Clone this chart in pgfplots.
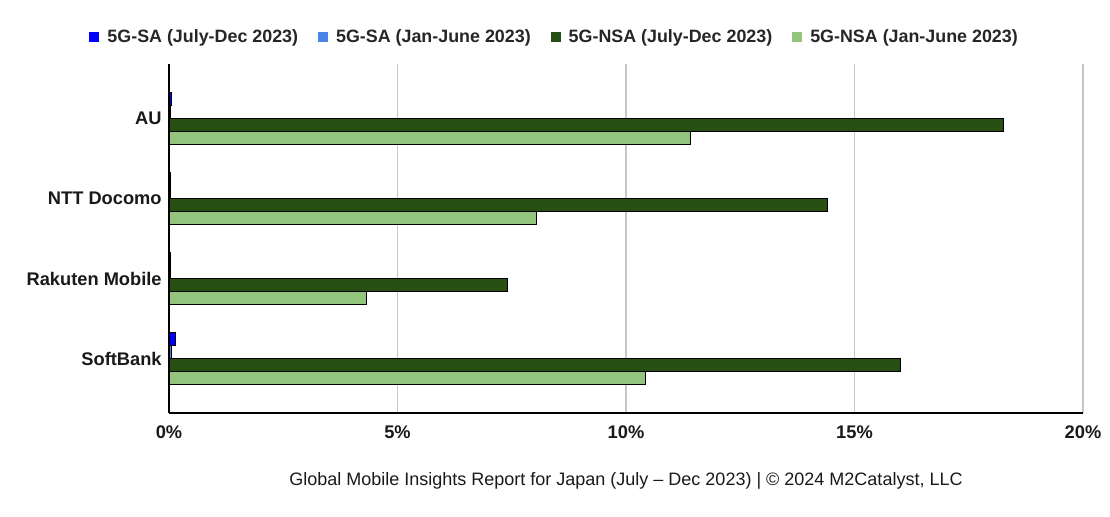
\documentclass[border=0pt]{standalone}
\usepackage{pgfplots}
\pgfplotsset{compat=1.18}
\usepackage{fontspec}
\setmainfont{Liberation Sans}
\definecolor{saJul}{HTML}{0000FF}
\definecolor{saJan}{HTML}{4A86E8}
\definecolor{nsaJul}{HTML}{274E13}
\definecolor{nsaJan}{HTML}{93C47D}
\begin{document}
\begin{tikzpicture}
\path (0pt,0pt) rectangle (832.5pt,387.75pt);
\begin{axis}[
  at={(126.75pt,78pt)}, anchor=south west,
  scale only axis, width=685.5pt, height=261.75pt,
  xbar, bar width=9.4pt,
  xmin=0, xmax=20, ymin=-0.68, ymax=3.68, y dir=reverse,
  ytick={0,1,2,3}, yticklabels={AU,NTT Docomo,Rakuten Mobile,SoftBank},
  xtick={0,5,10,15,20}, xticklabels={0\%,5\%,10\%,15\%,20\%},
  major tick length=0pt,
  axis lines*=left, axis line style={-, black, line width=0.8pt},
  xmajorgrids, grid style={gray!45, line width=0.8pt},
  tick label style={font=\fontsize{13.7}{15}\selectfont\bfseries, text=black!90},
  yticklabel style={xshift=-2pt},
  xticklabel style={yshift=-6pt},
  clip=false,
  legend columns=4,
  legend style={at={(rel axis cs:0.4223,1.077)}, anchor=center, draw=none,
    font=\fontsize{13.4}{15}\selectfont\bfseries, text=black!85,
    /tikz/every odd column/.append style={column sep=4pt},
    /tikz/every even column/.append style={column sep=13pt}},
  legend image code/.code={\fill[#1,draw=none] (0pt,-3.7pt) rectangle (7.5pt,3.7pt);},
  every axis plot/.append style={draw=black, line width=0.6pt},
]
\addplot[fill=saJul, bar shift=14.6pt] coordinates {(0.05,0) (0.03,1) (0.03,2) (0.14,3)};
\addplot[fill=saJan, bar shift=4.9pt] coordinates {(0.03,0) (0.03,1) (0.03,2) (0.06,3)};
\addplot[fill=nsaJul, bar shift=-4.9pt] coordinates {(18.25,0) (14.4,1) (7.4,2) (16.0,3)};
\addplot[fill=nsaJan, bar shift=-14.6pt] coordinates {(11.42,0) (8.05,1) (4.31,2) (10.42,3)};
\legend{5G-SA (July-Dec 2023),5G-SA (Jan-June 2023),5G-NSA (July-Dec 2023),5G-NSA (Jan-June 2023)}
\node[font=\fontsize{13.5}{15}\selectfont, text=black!90] at (rel axis cs:0.5,-0.195) {Global Mobile Insights Report for Japan (July – Dec 2023) | © 2024 M2Catalyst, LLC};
\end{axis}
\end{tikzpicture}
\end{document}
